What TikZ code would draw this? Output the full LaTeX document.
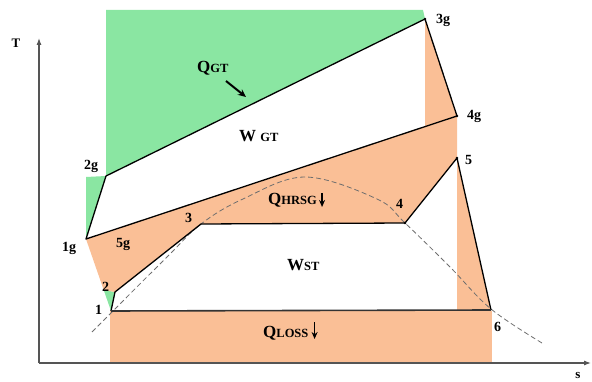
\documentclass[tikz,border=0pt]{standalone}
\usepackage{fontspec}
\setmainfont{Liberation Serif}
\usetikzlibrary{arrows.meta, calc}
\definecolor{tsgreen}{HTML}{8AE6A2}
\definecolor{tsorange}{HTML}{FABF96}
\definecolor{tsaxis}{HTML}{555555}
\definecolor{tsdash}{HTML}{6E6E6E}
\newcommand{\lowcap}[1]{{\fontsize{12.5}{12.5}\selectfont #1}}

\begin{document}
\begin{tikzpicture}[x=1pt, y=-1pt,
    axis/.style={tsaxis, line width=1.1pt},
    cycleline/.style={black, line width=1.3pt, line join=round},
    ptlabel/.style={font=\fontsize{14}{14}\selectfont\bfseries, inner sep=0pt, anchor=base west},
    qlabel/.style={font=\fontsize{17}{17}\selectfont\bfseries, inner sep=0pt, anchor=base west},
    darrow/.style={black, line width=1.2pt, -{Stealth[length=7pt, width=6pt]}}]
  \useasboundingbox (0,0) rectangle (592,382);

  % gas cycle points
  \coordinate (p1g) at (86,239);
  \coordinate (p2g) at (106,176);
  \coordinate (p3g) at (425,19);
  \coordinate (p4g) at (457,116);
  % steam cycle points
  \coordinate (p1) at (111,311);
  \coordinate (p2) at (115,292);
  \coordinate (p3) at (201,224);
  \coordinate (p4) at (405,223);
  \coordinate (p5) at (457,158);
  \coordinate (p6) at (491,310);
  \coordinate (c2) at ($(p1g)!0.71!(p1)$);
  \coordinate (c4g) at ($(p1g)!0.914!(p4g)$);

  % heat areas
  \fill[tsgreen] (106,10) -- (423,10) -- (p3g) -- (p2g) -- cycle;
  \fill[tsgreen] (86,177) -- (p2g) -- (p1g) -- cycle;
  \fill[tsgreen] (c2) -- (p2) -- (p1) -- cycle;
  \fill[tsorange] (p1g) -- (p4g) -- (p5) -- (p4) -- (p3) -- (p2) -- (c2) -- cycle;
  \fill[tsorange] (p3g) -- (p4g) -- (c4g) -- cycle;
  \fill[tsorange] (p5) -- (p6) -- (p5 |- p6) -- cycle;
  \fill[tsorange] (110,311) rectangle (492,363);

  % axes
  \coordinate (o) at (39,363);
  \draw[axis, -{Latex[length=7pt, width=5pt]}] (o) -- (39,38) coordinate (tend);
  \draw[axis, -{Latex[length=7pt, width=5pt]}] (o) -- (591,363) coordinate (send);
  \node[font=\fontsize{13}{13}\selectfont\bfseries] (tlab) at (16,43) {T};
  \node[font=\fontsize{13}{13}\selectfont\bfseries] (slab) at (578,375) {s};

  % saturation dome
  \draw[tsdash, dashed, line width=0.8pt, dash pattern=on 5pt off 3pt]
    plot[smooth, tension=0.6] coordinates {(92,332) (167,257) (201,224) (243,199)
      (305,177) (377,199) (405,223) (450,267) (491,309) (542,343)};

  % cycles
  \draw[cycleline] (p1g) -- (p2g) -- (p3g) -- (p4g) -- cycle;
  \draw[cycleline] (p1) -- (p2) -- (p3) -- (p4) -- (p5) -- (p6);
  \draw[black!80, line width=1.6pt] (p6) -- (p1);
  \foreach \p in {p3g, p4g, p5, p4}
    \fill (\p) circle (1.3pt);

  % state labels
  \node[ptlabel] (l3g) at (436,24) {3g};
  \node[ptlabel] (l4g) at (467,120) {4g};
  \node[ptlabel] (l5) at (465,165) {5};
  \node[ptlabel] (l6) at (494,331) {6};
  \node[ptlabel] (l4) at (396,209) {4};
  \node[ptlabel] (l3) at (185,223) {3};
  \node[ptlabel] (l2) at (102,291) {2};
  \node[ptlabel] (l1) at (95,315) {1};
  \node[ptlabel] (l1g) at (62,252) {1g};
  \node[ptlabel] (l5g) at (116,248) {5g};
  \node[ptlabel] (l2g) at (84,170) {2g};

  % energy labels
  \node[qlabel] (qgt) at (197,73) {Q\lowcap{GT}};
  \node[qlabel] (wgt) at (239,142) {W \lowcap{GT}};
  \node[qlabel] (qhrsg) at (268,205) {Q\lowcap{HRSG}};
  \node[qlabel] (wst) at (287,271) {W\lowcap{ST}};
  \node[qlabel] (qloss) at (263,337) {Q\lowcap{LOSS}};
  \draw[darrow, line width=2pt, -{Stealth[length=8pt, width=7pt]}] (226,81) -- (246,97);
  \draw[darrow] ([xshift=5pt, yshift=12pt]qhrsg.base east) -- ([xshift=5pt, yshift=-2pt]qhrsg.base east);
  \draw[darrow] ([xshift=6pt, yshift=15pt]qloss.base east) -- ([xshift=6pt, yshift=-2pt]qloss.base east);
\end{tikzpicture}
\end{document}
